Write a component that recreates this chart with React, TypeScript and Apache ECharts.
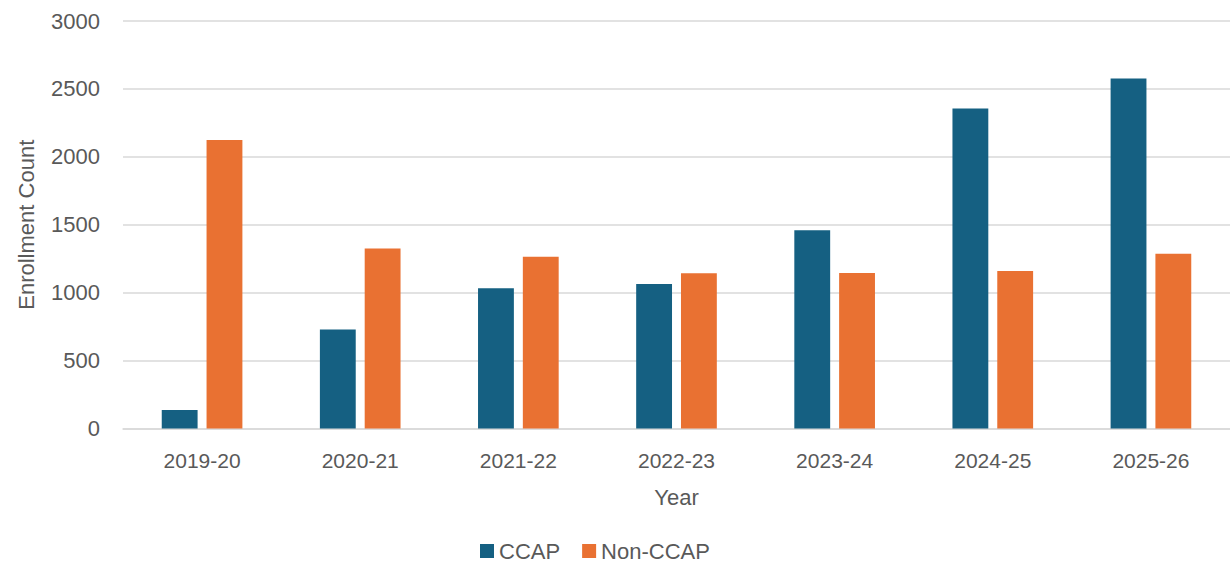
import React, { useEffect, useRef } from "react";
import * as echarts from "echarts";

const years = ["2019-20", "2020-21", "2021-22", "2022-23", "2023-24", "2024-25", "2025-26"];
const ccap = [136, 729, 1032, 1064, 1459, 2356, 2577];
const nonCcap = [2124, 1325, 1265, 1143, 1145, 1160, 1287];
const yTicks = { min: 0, max: 3000, interval: 500 };

const FONT = "'Liberation Sans', Arial, sans-serif";
const TEXT = "#595959";

export default function App() {
  const ref = useRef<HTMLDivElement>(null);

  useEffect(() => {
    if (!ref.current) return;
    const chart = echarts.init(ref.current, null, { renderer: "svg" });
    chart.setOption({
      animation: false,
      textStyle: { fontFamily: FONT },
      grid: { left: 123, right: 0, top: 21, bottom: 134.5, containLabel: false },
      legend: {
        top: 540,
        left: 480,
        padding: 0,
        itemWidth: 14,
        itemHeight: 14,
        itemGap: 22,
        icon: "rect",
        textStyle: { color: TEXT, fontSize: 22, fontFamily: FONT },
        data: ["CCAP", "Non-CCAP"],
      },
      xAxis: {
        type: "category",
        data: years,
        name: "Year",
        nameLocation: "middle",
        nameGap: 58,
        nameTextStyle: { color: TEXT, fontSize: 22, fontFamily: FONT },
        axisLine: { show: true, lineStyle: { color: "#d9d9d9", width: 1.5 } },
        axisTick: { show: false },
        axisLabel: { color: TEXT, fontSize: 21, margin: 21, fontFamily: FONT },
      },
      yAxis: {
        type: "value",
        min: yTicks.min,
        max: yTicks.max,
        interval: yTicks.interval,
        name: "Enrollment Count",
        nameLocation: "middle",
        nameGap: 86,
        nameTextStyle: { color: TEXT, fontSize: 22, fontFamily: FONT },
        axisLine: { show: false },
        axisTick: { show: false },
        axisLabel: {
          color: TEXT,
          fontSize: 22,
          margin: 23,
          fontFamily: FONT,
          formatter: (v: number) => String(v),
        },
        splitLine: { lineStyle: { color: "#d9d9d9", width: 1.5 } },
      },
      series: [
        {
          name: "CCAP",
          type: "bar",
          data: ccap,
          itemStyle: { color: "#156082" },
          barGap: "25%",
          barCategoryGap: "49%",
        },
        {
          name: "Non-CCAP",
          type: "bar",
          data: nonCcap,
          itemStyle: { color: "#E97132" },
        },
      ],
    });
    return () => chart.dispose();
  }, []);

  return (
    <div
      ref={ref}
      style={{ position: "fixed", left: 0, top: 0, width: 1230, height: 563, background: "#fff" }}
    />
  );
}
